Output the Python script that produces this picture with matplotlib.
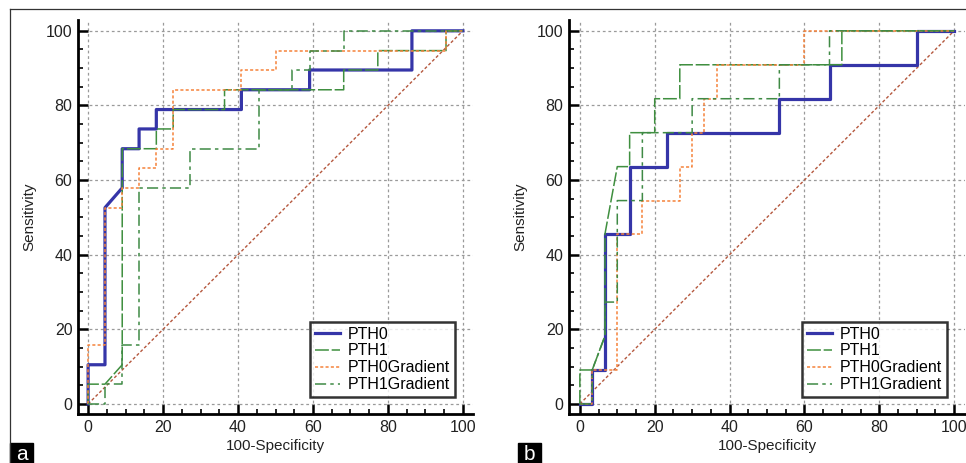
import matplotlib
matplotlib.use("Agg")
import matplotlib.pyplot as plt
from matplotlib.lines import Line2D
from matplotlib.patches import Rectangle
from matplotlib.ticker import MultipleLocator

plt.rcParams['font.family'] = ['Liberation Sans', 'DejaVu Sans']
plt.rcParams['lines.scale_dashes'] = False

labels = ["PTH0", "PTH1", "PTH0Gradient", "PTH1Gradient"]
ticks = [0, 20, 40, 60, 80, 100]

# panel a: ROC vertices (100-Specificity, Sensitivity)
a_pth0_x = [0, 0, 4.5, 4.5, 9.1, 9.1, 13.6, 13.6, 18.2, 18.2, 40.9, 40.9, 59.1, 59.1, 86.4, 86.4, 100]
a_pth0_y = [0, 10.5, 10.5, 52.6, 57.9, 68.4, 68.4, 73.7, 73.7, 78.9, 78.9, 84.2, 84.2, 89.5, 89.5, 100, 100]
a_pth1_x = [0, 0, 4.5, 9.1, 9.1, 18.2, 18.2, 22.7, 22.7, 36.4, 36.4, 68.2, 68.2, 77.3, 77.3, 95.5, 95.5, 100]
a_pth1_y = [0, 5.3, 5.3, 10.5, 68.4, 68.4, 73.7, 73.7, 78.9, 78.9, 84.2, 84.2, 89.5, 89.5, 94.7, 94.7, 100, 100]
a_pth0g_x = [0, 0, 4.5, 4.5, 9.1, 9.1, 13.6, 13.6, 18.2, 18.2, 22.7, 22.7, 40.9, 40.9, 50.0, 50.0, 95.5, 95.5, 100]
a_pth0g_y = [0, 15.8, 15.8, 52.6, 52.6, 57.9, 57.9, 63.2, 63.2, 68.4, 68.4, 84.2, 84.2, 89.5, 89.5, 94.7, 94.7, 100, 100]
a_pth1g_x = [0, 4.5, 4.5, 9.1, 9.1, 13.6, 13.6, 27.3, 27.3, 45.5, 45.5, 54.5, 54.5, 59.1, 59.1, 68.2, 68.2, 100]
a_pth1g_y = [0, 0, 5.3, 5.3, 15.8, 15.8, 57.9, 57.9, 68.4, 68.4, 84.2, 84.2, 89.5, 89.5, 94.7, 94.7, 100, 100]

# panel b
b_pth0_x = [0, 3.3, 3.3, 6.7, 6.7, 13.3, 13.3, 23.3, 23.3, 53.3, 53.3, 66.7, 66.7, 90.0, 90.0, 100]
b_pth0_y = [0, 0, 9.1, 9.1, 45.5, 45.5, 63.6, 63.6, 72.7, 72.7, 81.8, 81.8, 90.9, 90.9, 100, 100]
b_pth1_x = [0, 0, 3.3, 6.7, 6.7, 10.0, 13.3, 13.3, 20.0, 20.0, 26.7, 26.7, 70.0, 70.0, 100]
b_pth1_y = [0, 9.1, 9.1, 18.2, 45.5, 63.6, 63.6, 72.7, 72.7, 81.8, 81.8, 90.9, 90.9, 100, 100]
b_pth0g_x = [0, 3.3, 3.3, 10.0, 10.0, 16.7, 16.7, 26.7, 26.7, 30.0, 30.0, 33.3, 33.3, 36.7, 36.7, 60.0, 60.0, 100]
b_pth0g_y = [0, 0, 9.1, 9.1, 45.5, 45.5, 54.5, 54.5, 63.6, 63.6, 72.7, 72.7, 81.8, 81.8, 90.9, 90.9, 100, 100]
b_pth1g_x = [0, 3.3, 3.3, 6.7, 6.7, 10.0, 10.0, 16.7, 16.7, 30.0, 30.0, 53.3, 53.3, 66.7, 66.7, 100]
b_pth1g_y = [0, 0, 9.1, 18.2, 27.3, 27.3, 54.5, 54.5, 72.7, 72.7, 81.8, 81.8, 90.9, 90.9, 100, 100]

styles = [
    dict(color="#3535a8", lw=2.3, ls="-"),
    dict(color="#3f8f3f", lw=1.1, ls=(0, (10, 2))),
    dict(color="#f5823a", lw=1.1, ls=(0, (2.2, 1.6))),
    dict(color="#3f8a45", lw=1.1, ls=(0, (8, 3, 2.5, 3))),
]

W, H = 966, 463
fig = plt.figure(figsize=(W / 100, H / 100), dpi=100)


def px_axes(l, r, t, b):
    return fig.add_axes([l / W, 1 - b / H, (r - l) / W, (b - t) / H])


def draw(ax, series, xlim, ylim):
    ax.set_xlim(*xlim)
    ax.set_ylim(*ylim)
    ax.plot([0, 100], [0, 100], color="#b5583e", lw=1.0, ls=(0, (2.2, 1.6)), zorder=2)
    handles = []
    for (xs, ys), st, lab in zip(series, styles, labels):
        ax.plot(xs, ys, color=st["color"], lw=st["lw"], linestyle=st["ls"], zorder=3)
        handles.append(Line2D([], [], color=st["color"], lw=st["lw"], linestyle=st["ls"]))
    ax.set_xticks(ticks)
    ax.set_yticks(ticks)
    ax.xaxis.set_minor_locator(MultipleLocator(5))
    ax.yaxis.set_minor_locator(MultipleLocator(5))
    ax.grid(True, which="major", color="#9a9a9a", lw=0.9, ls=(0, (2, 2)))
    for s in ["top", "right"]:
        ax.spines[s].set_visible(False)
    for s in ["left", "bottom"]:
        ax.spines[s].set_linewidth(2.0)
    ax.tick_params(which="major", direction="in", length=7.5, width=1.8, labelsize=11.5,
                   pad=4, labelcolor="#222222")
    ax.tick_params(which="minor", direction="in", length=3.5, width=1.2)
    ax.set_xlabel("100-Specificity", fontsize=11, labelpad=3, color="#222222")
    ax.set_ylabel("Sensitivity", fontsize=11, labelpad=7, color="#222222")
    leg = ax.legend(handles, labels, loc="lower right", bbox_to_anchor=(0.955, 0.043),
                    fontsize=11.5, frameon=True, fancybox=False, edgecolor="black",
                    borderaxespad=0, handlelength=1.6, handletextpad=0.5,
                    labelspacing=0.12, borderpad=0.3)
    leg.get_frame().set_linewidth(1.8)
    leg.set_zorder(5)


ax1 = px_axes(78, 473, 20, 414)
draw(ax1, [(a_pth0_x, a_pth0_y), (a_pth1_x, a_pth1_y), (a_pth0g_x, a_pth0g_y), (a_pth1g_x, a_pth1g_y)],
     (-2.7, 102.7), (-2.7, 102.9))

ax2 = px_axes(569, 965, 20, 414)
draw(ax2, [(b_pth0_x, b_pth0_y), (b_pth1_x, b_pth1_y), (b_pth0g_x, b_pth0g_y), (b_pth1g_x, b_pth1g_y)],
     (-2.9, 102.9), (-2.7, 102.9))

# outer frame lines
fig.add_artist(Line2D([10 / W, 1], [1 - 9 / H, 1 - 9 / H], color="#333333", lw=0.9))
fig.add_artist(Line2D([10 / W, 10 / W], [0, 1 - 9 / H], color="#333333", lw=0.9))

# panel letters
for x0, letter in [(10, "a"), (518, "b")]:
    fig.add_artist(Rectangle((x0 / W, 0), 23 / W, 20 / H, color="black", transform=fig.transFigure))
    fig.text((x0 + 11.5) / W, 9 / H, letter, color="white", fontsize=15,
             ha="center", va="center")

fig.savefig("out.png", dpi=100)
